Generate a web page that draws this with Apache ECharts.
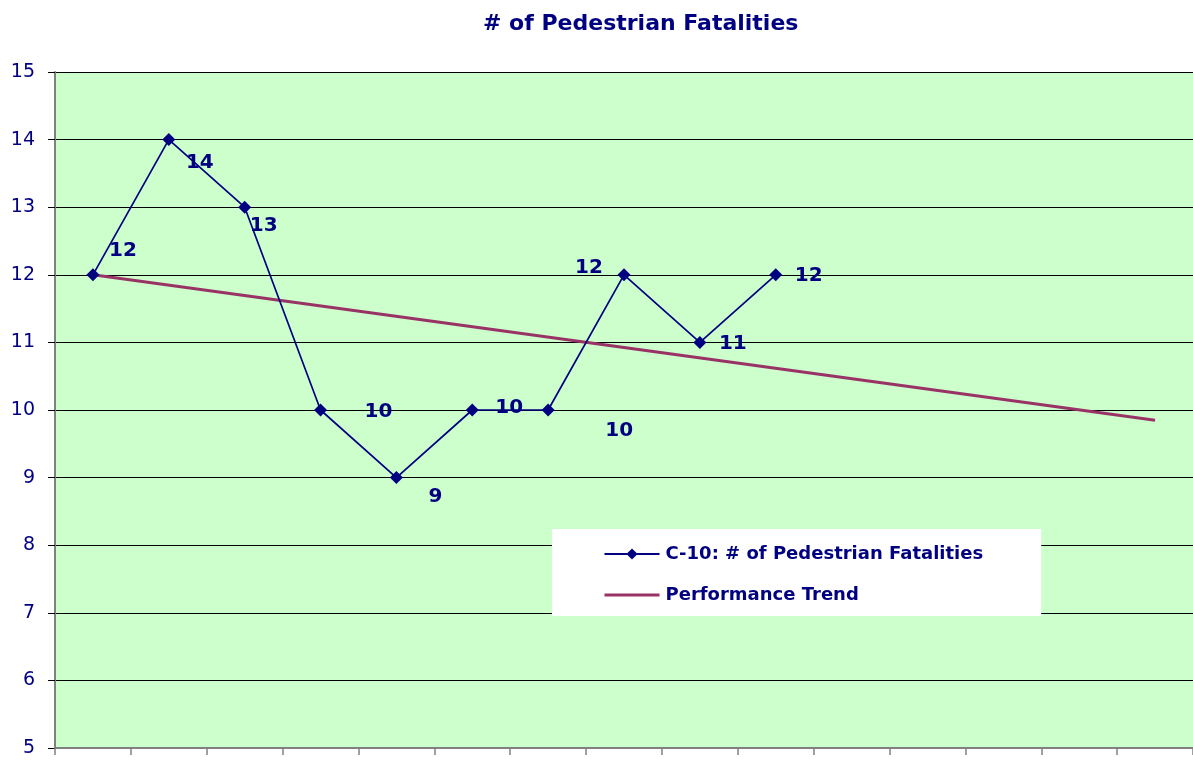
<!DOCTYPE html>
<html>
<head>
<meta charset="utf-8">
<title># of Pedestrian Fatalities</title>
<script src="https://cdn.jsdelivr.net/npm/echarts@6/dist/echarts.min.js"></script>
<style>
  html, body { margin: 0; padding: 0; background: #fff; }
  #chart { width: 1193px; height: 761px; }
</style>
</head>
<body>
<div id="chart"></div>
<script>
// slots on the x axis (no labels shown in the original)
var categories = ['1', '2', '3', '4', '5', '6', '7', '8', '9', '10', '11', '12', '13', '14', '15'];
// C-10: # of Pedestrian Fatalities
var fatalities = [12, 14, 13, 10, 9, 10, 10, 12, 11, 12];
// performance trend, only the two ends are known
var trendStart = 12;
var trendEnd = 9.85;
var yTicks = [5, 6, 7, 8, 9, 10, 11, 12, 13, 14, 15];

// where each value label sits relative to its point (px)
var labelOffsets = [[30, -24], [31, 23], [19, 19], [58, 2], [39, 19],
  [37, -2], [71, 21], [-35, -7], [33, 1], [33, 1]];

var navy = '#000080';
var font = '"DejaVu Sans", Verdana, sans-serif';

var trend = categories.map(function (c, i) {
  if (i === 0) return trendStart;
  if (i === categories.length - 1) return trendEnd;
  return null;
});

var chart = echarts.init(document.getElementById('chart'));
var option = {
  backgroundColor: '#fff',
  animation: false,
  title: {
    text: '# of Pedestrian Fatalities',
    left: 478,
    top: 8,
    textStyle: { color: navy, fontFamily: font, fontWeight: 'bold', fontSize: 22 }
  },
  legend: {
    orient: 'vertical',
    left: 552,
    top: 529,
    backgroundColor: '#fff',
    padding: [16, 58, 12, 51],
    itemGap: 23,
    itemWidth: 55,
    itemHeight: 14,
    textStyle: { color: navy, fontFamily: font, fontWeight: 'bold', fontSize: 18, padding: [0, 0, 0, 1] },
    data: [
      'C-10: # of Pedestrian Fatalities',
      { name: 'Performance Trend', itemStyle: { opacity: 0 }, lineStyle: { width: 3, color: '#993366' } }
    ]
  },
  grid: { left: 55, right: 0, top: 72, bottom: 13, backgroundColor: '#ccffcc', show: true, borderWidth: 0 },
  xAxis: {
    type: 'category',
    data: categories,
    boundaryGap: true,
    axisLine: { lineStyle: { color: '#808080', width: 2 } },
    axisTick: { show: true, length: 7, lineStyle: { color: '#808080', width: 1.5 } },
    axisLabel: { show: false },
    splitLine: { show: false }
  },
  yAxis: {
    type: 'value',
    min: yTicks[0],
    max: yTicks[yTicks.length - 1],
    interval: 1,
    axisLine: { show: true, lineStyle: { color: '#808080', width: 2 } },
    axisTick: { show: true, length: 7, lineStyle: { color: '#000' } },
    axisLabel: { color: navy, fontFamily: font, fontSize: 19, margin: 20 },
    splitLine: { show: true, lineStyle: { color: '#000', width: 1.2 } }
  },
  series: [
    {
      name: 'C-10: # of Pedestrian Fatalities',
      type: 'line',
      data: fatalities.map(function (v, i) {
        return { value: v, label: { offset: labelOffsets[i] } };
      }),
      symbol: 'diamond',
      symbolSize: 13,
      lineStyle: { color: navy, width: 1.7 },
      itemStyle: { color: navy },
      z: 3,
      label: {
        show: true,
        position: 'inside',
        color: navy,
        fontFamily: font,
        fontWeight: 'bold',
        fontSize: 20
      }
    },
    {
      name: 'Performance Trend',
      type: 'line',
      data: trend,
      connectNulls: true,
      symbol: 'none',
      lineStyle: { color: '#993366', width: 3 },
      itemStyle: { color: '#993366' },
      z: 2
    }
  ]
};
chart.setOption(option);
</script>
</body>
</html>
